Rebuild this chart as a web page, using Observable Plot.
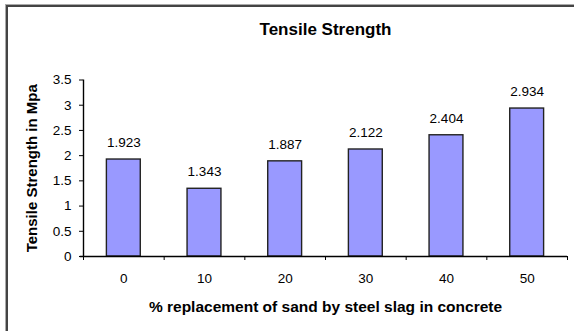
<!DOCTYPE html>
<html>
<head>
<meta charset="utf-8">
<script src="https://cdn.jsdelivr.net/npm/d3@7"></script>
<script src="https://cdn.jsdelivr.net/npm/@observablehq/plot@0.6"></script>
<style>
  html, body { margin: 0; padding: 0; background: #fff; overflow: hidden; }
  #wrap { position: relative; width: 574px; height: 331px; overflow: hidden; }
  #border { position: absolute; left: 6px; top: 5px; width: 700px; height: 500px;
            border-top: 2px solid #444; border-left: 2px solid #444;
            box-shadow: -1px -1px 0 #aaa; }
  #chart { position: absolute; left: 0; top: 0; }
</style>
</head>
<body>
<div id="wrap"><div id="border"></div><div id="chart"></div></div>
<script>
const categories = [0, 10, 20, 30, 40, 50];
const values = [1.923, 1.343, 1.887, 2.122, 2.404, 2.934];
const valueLabels = ["1.923", "1.343", "1.887", "2.122", "2.404", "2.934"];
const yTicks = [0, 0.5, 1, 1.5, 2, 2.5, 3, 3.5];
const xBoundaries = [-5, 5, 15, 25, 35, 45, 55];
const title = "Tensile Strength";
const xLabel = "% replacement of sand by steel slag in concrete";
const yLabel = "Tensile Strength in Mpa";

const data = categories.map((c, i) => ({pct: c, value: values[i], label: valueLabels[i]}));
const halfWidth = 2.1;

const font = "Liberation Sans, Arial, sans-serif";

const chart = Plot.plot({
  width: 574,
  height: 331,
  marginLeft: 83,
  marginRight: 7,
  marginTop: 79.5,
  marginBottom: 75,
  style: {fontFamily: font, fontSize: "13px", color: "#000", background: "transparent", overflow: "visible"},
  x: {type: "linear", domain: [-5, 55]},
  y: {domain: [0, 3.5]},
  marks: [
    Plot.rectY(data, {x1: d => d.pct - halfWidth, x2: d => d.pct + halfWidth, y: "value", fill: "#9999FF", stroke: "#222", strokeWidth: 1.4}),
    Plot.text(data, {x: "pct", y: "value", text: "label", dy: -17, fontSize: 13.5, fill: "#000"}),
    Plot.axisY({ticks: yTicks, tickSize: 4, tickPadding: 8, tickFormat: d => String(d), label: null, fontSize: 13.5}),
    Plot.ruleX([-5], {stroke: "#000", strokeWidth: 1.4}),
    Plot.axisX({ticks: xBoundaries, tickSize: 4, tickFormat: () => "", label: null}),
    Plot.axisX({ticks: categories, tickSize: 0, tickPadding: 17, tickFormat: d => String(d), label: null, fontSize: 13.5}),
    Plot.ruleY([0], {x1: -5.4, x2: 55, stroke: "#000", strokeWidth: 1.4}),
    Plot.text([xLabel], {frameAnchor: "bottom", lineAnchor: "middle", dy: 51, fontWeight: "bold", fontSize: 15.5}),
    Plot.text([yLabel], {frameAnchor: "left", textAnchor: "middle", lineAnchor: "middle", dx: -51, rotate: -90, fontWeight: "bold", fontSize: 15}),
    Plot.text([title], {frameAnchor: "top", lineAnchor: "middle", dy: -50.5, fontWeight: "bold", fontSize: 17})
  ]
});
document.getElementById("chart").appendChild(chart);
</script>
</body>
</html>
